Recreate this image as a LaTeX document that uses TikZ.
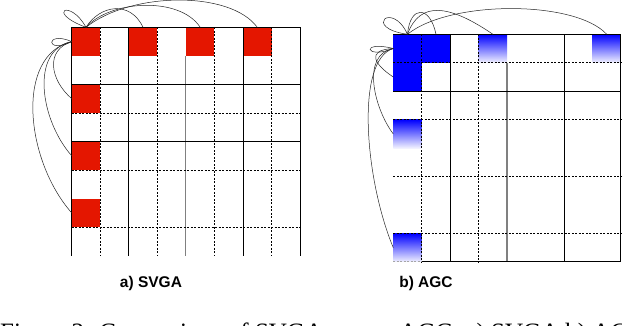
\documentclass[tikz,border=0pt]{standalone}
\usepackage{fontspec}
\setmainfont{Liberation Serif}
\newfontfamily\labelfont{Liberation Sans}
\definecolor{svgared}{RGB}{228,22,0}
\definecolor{agcblue}{RGB}{0,0,255}
\begin{document}
\begin{tikzpicture}[x=1pt,y=-1pt,
  cellA/.style={minimum size=28.55pt,inner sep=0pt,outer sep=0pt,draw=none},
  cellB/.style={minimum size=28.45pt,inner sep=0pt,outer sep=0pt,draw=none},
  redsq/.style={cellA,fill=svgared},
  bluesq/.style={cellB,fill=agcblue},
  fadesq/.style={cellB,top color=agcblue,bottom color=agcblue!5},
  solidline/.style={line width=0.9pt,black},
  dashline/.style={line width=0.8pt,black,dash pattern=on 2pt off 1.5pt},
  grayline/.style={line width=0.9pt,black!50},
  grayhline/.style={line width=1.9pt,black!50},
  link/.style={line width=0.5pt,black!85},
  caption/.style={font=\labelfont\bfseries\fontsize{15.5}{18}\selectfont,inner sep=0pt}
]
\useasboundingbox (0,0) rectangle (622,326);
\fill[white] (0,0) rectangle (622,326);

% ---------------- a) SVGA ----------------
\node[redsq] (a0) at (86.0,41.6) {};
\node[redsq] (a2) at (143.1,41.6) {};
\node[redsq] (a4) at (200.2,41.6) {};
\node[redsq] (a6) at (257.3,41.6) {};
\node[redsq] (r2) at (86.0,98.7) {};
\node[redsq] (r4) at (86.0,155.8) {};
\node[redsq] (r6) at (86.0,212.9) {};

% verticals
\foreach \x in {71.7,128.8,243.0,300.1} \draw[solidline] (\x,27.3) -- (\x,256);
\foreach \x in {100.25,157.35,214.45,271.55} \draw[dashline] (\x,27.3) -- (\x,256);
\draw[grayline] (185.9,55.85) -- (185.9,256);
% horizontals
\foreach \y in {27.3,84.4,141.5} \draw[solidline] (71.7,\y) -- (300.1,\y);
\foreach \y in {112.95,170.05,227.15} \draw[dashline] (71.7,\y) -- (300.1,\y);

% links
\draw[link] (a0.north) .. controls (45,12) and (70,-2) .. (a0.north);
\draw[link] (a0.north) .. controls (100,5) and (130,0) .. (a2.north);
\draw[link] (a0.north) .. controls (110,0) and (180,-4) .. (a4.north);
\draw[link] (a0.north) .. controls (130,-8) and (230,-10) .. (a6.north);
\draw[link] (a0.west) .. controls (45,30) and (45,55) .. (a0.west);
\draw[link] (a0.west) .. controls (45,50) and (50,80) .. (r2.west);
\draw[link] (a0.west) .. controls (30,50) and (40,120) .. (r4.west);
\draw[link] (a0.west) .. controls (15,55) and (25,160) .. (r6.west);

\node[caption] (capA) at (151,283) {a) SVGA};

% ---------------- b) AGC ----------------
\node[bluesq] (b00) at (407.5,48.5) {};
\node[bluesq] (b01) at (436.0,48.5) {};
\node[bluesq] (b10) at (407.5,77.0) {};
\node[fadesq] (g03) at (492.9,48.5) {};
\node[fadesq] (g07) at (606.7,48.5) {};
\node[fadesq] (g30) at (407.5,133.9) {};
\node[fadesq] (g70) at (407.5,247.7) {};

% verticals
\foreach \x in {450.2,564.0,620.9} \draw[solidline] (\x,34.3) -- (\x,261.9);
\foreach \x in {421.75,478.65} \draw[dashline] (\x,34.3) -- (\x,261.9);
\draw[grayhline] (507.1,62.75) -- (507.1,261.9);
% horizontals
\foreach \y in {34.3,91.2} \draw[solidline] (393.3,\y) -- (620.9,\y);
\foreach \y in {62.75,119.65,176.55,233.45} \draw[dashline] (393.3,\y) -- (620.9,\y);
\draw[solidline] (421.75,261.9) -- (620.9,261.9);
\draw[dashline,black!35] (393.3,261.9) -- (421.75,261.9);

% links
\draw[link] (b00.north) .. controls (362,28) and (392,0) .. (b00.north);
\draw[link] (b00.north) .. controls (410,5) and (430,5) .. (b01.north);
\draw[link] (b00.north) .. controls (420,0) and (450,5) .. (g03.north);
\draw[link] (b00.north) .. controls (450,0) and (575,0) .. (g07.north);
\draw[link] (b00.west) .. controls (360,40) and (365,60) .. (b00.west);
\draw[link] (b00.west) .. controls (365,50) and (375,65) .. (b10.west);
\draw[link] (b00.west) .. controls (360,55) and (375,110) .. (g30.west);
\draw[link] (b00.west) .. controls (355,60) and (365,180) .. (g70.west);

\node[caption] (capB) at (426,283) {b) AGC};

% figure caption, cut off by the lower edge as in the reference
\begin{scope}
\clip (0,0) rectangle (622,326);
\node[anchor=north west,inner sep=0pt,font=\fontsize{25}{30}\selectfont] (figcap) at (0,322.5)
  {Figure 2: Comparison of SVGA versus AGC: a) SVGA b) AGC};
\end{scope}
\end{tikzpicture}
\end{document}
